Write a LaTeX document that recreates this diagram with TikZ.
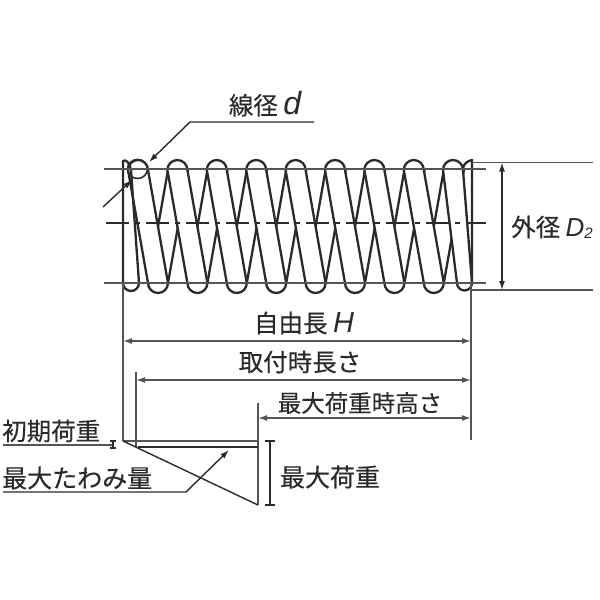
\documentclass[tikz,border=0pt]{standalone}
\usepackage{fontspec}
\setmainfont[FakeBold=0.25]{Noto Sans CJK JP}
\newfontfamily\latinit{Liberation Sans}
\usepackage{xcolor}
\usepackage{tikz}
\usetikzlibrary{arrows.meta,positioning,calc}
\definecolor{inkdark}{HTML}{2A2A2A}
\definecolor{inkline}{HTML}{555555}

\begin{document}
\begin{tikzpicture}[x=1pt, y=-1pt,
    wire/.style={line width=2.3pt, draw=inkdark, line join=round},
    guide/.style={line width=1.4pt, draw=inkline},
    dimline/.style={line width=1.4pt, draw=inkline, {Latex[length=9pt,width=6pt]}-{Latex[length=9pt,width=6pt]}},
    dimend/.style={line width=1.4pt, draw=inkline, -{Latex[length=9pt,width=6pt]}},
    ibar/.style={line width=1.8pt, draw=inkdark},
    label/.style={font=\fontsize{24.5}{26}\selectfont, text=inkdark, inner sep=0pt}]
    \useasboundingbox (0,0) rectangle (600,600);

    % Back of the coils
    \foreach \i in {0,...,7} {
        \draw[wire] ({148+39.4*\i},283) -- ({168+39.4*\i},170);
        \draw[wire] ({168+39.4*\i},283) -- ({188+39.4*\i},170);
    }

    % Front of the coils
    \foreach \i in {0,...,7} {
        \draw[wire, fill=white] ({128+39.4*\i},170) arc[start angle=180, end angle=360, radius=10]
            -- ({168+39.4*\i},283) arc[start angle=0, end angle=180, radius=10] -- cycle;
    }

    % Coil ends
    \draw[wire] (123,283) -- (123,161) .. controls (126,159) and (129,162) .. (131,170)
        -- (139,283) arc[start angle=0, end angle=180, radius=8];
    \draw[wire, fill=white] (443,170) arc[start angle=180, end angle=360, radius=10]
        -- (472,283) arc[start angle=0, end angle=180, radius=7.5] -- cycle;
    \draw[wire] (463,168) .. controls (464,163) and (468,161) .. (472,160) -- (472,283);

    % Wire section
    \draw[wire, line width=1.6pt] (137.5,169) circle[x radius=10, y radius=9.5];

    % Guide lines
    \coordinate (topa) at (104,169);
    \coordinate (topb) at (486,169);
    \coordinate (bota) at (104,283);
    \coordinate (botb) at (486,283);
    \coordinate (axisa) at (106,223);
    \coordinate (axisb) at (486,223);
    \draw[guide] (topa) -- (topb);
    \draw[guide] (bota) -- (botb);
    \draw[guide, draw=inkdark, dash pattern=on 23pt off 6pt on 5pt off 6pt] (axisa) -- (axisb);

    % Outer diameter
    \coordinate (oda) at (472,162.5);
    \coordinate (odb) at (593,162.5);
    \coordinate (odc) at (472,290);
    \coordinate (odd) at (593,290);
    \draw[guide] (oda) -- (odb);
    \draw[guide] (odc) -- (odd);
    \coordinate (odtop) at (502,162.5);
    \coordinate (odbot) at (502,290);
    \draw[dimline, draw=inkdark] (odtop) -- (odbot);
    \node[label, anchor=west] (odlabel) at (511,227) {外径 {\fontsize{26}{26}\selectfont\latinit\itshape D}\raisebox{-2pt}{\fontsize{15}{15}\selectfont\latinit\itshape 2}};

    % Wire diameter
    \node[label] (wirelabel) at (265,104) {線径 {\fontsize{32}{32}\selectfont\latinit\itshape d}};
    \coordinate (wirea) at (314,122);
    \coordinate (wireb) at (190,122);
    \coordinate (wirec) at (149,162);
    \draw[dimend, draw=inkdark] (wirea) -- (wireb) -- (wirec);
    \coordinate (wired) at (103,207);
    \coordinate (wiree) at (132,180);
    \draw[dimend, draw=inkdark] (wired) -- (wiree);

    % Extension lines
    \coordinate (exta) at (123,283);
    \coordinate (extb) at (123,441);
    \coordinate (extc) at (471,283);
    \coordinate (extd) at (471,440);
    \coordinate (exte) at (136,372);
    \coordinate (extf) at (136,447);
    \coordinate (extg) at (258,403);
    \coordinate (exth) at (258,505);
    \draw[guide] (exta) -- (extb);
    \draw[guide] (extc) -- (extd);
    \draw[guide] (exte) -- (extf);
    \draw[guide] (extg) -- (exth);

    % Free length
    \node[label] (freelabel) at (304,323) {自由長 {\fontsize{29}{29}\selectfont\latinit\itshape H}};
    \coordinate (freea) at (123,341);
    \coordinate (freeb) at (471,341);
    \draw[dimline] (freea) -- (freeb);

    % Mounted length
    \node[label] (mountlabel) at (300,362) {取付時長さ};
    \coordinate (mounta) at (136,380);
    \coordinate (mountb) at (471,380);
    \draw[dimline] (mounta) -- (mountb);

    % Height at maximum load
    \node[label, font=\fontsize{23.5}{25}\selectfont] (heightlabel) at (360,403) {最大荷重時高さ};
    \coordinate (heighta) at (258,418);
    \coordinate (heightb) at (471,418);
    \draw[dimline] (heighta) -- (heightb);

    % Load diagram
    \coordinate (loada) at (258,441);
    \coordinate (loadb) at (138,447);
    \coordinate (loadc) at (258,447);
    \draw[guide] (extb) -- (loada);
    \draw[guide, draw=inkdark] (loadb) -- (loadc);
    \draw[line width=1.4pt, draw=inkdark] (extb) -- (exth);

    % Initial load
    \node[label, anchor=west] (initlabel) at (2,431) {初期荷重};
    \coordinate (inita) at (3,445);
    \coordinate (initb) at (113,445);
    \draw[guide] (inita) -- (initb);
    \draw[ibar] (113,441) -- (113,448) (110,441) -- (116,441) (110,448) -- (116,448);

    % Maximum deflection
    \node[label, anchor=west, font=\fontsize{25}{26}\selectfont] (deflabel) at (2,478) {最大たわみ量};
    \coordinate (defa) at (3,492);
    \coordinate (defb) at (186,492);
    \coordinate (defc) at (229,450);
    \draw[dimend, draw=inkdark] (defa) -- (defb) -- (defc);

    % Maximum load
    \node[label, font=\fontsize{25}{26}\selectfont] (maxlabel) at (330,477) {最大荷重};
    \draw[ibar] (270,441) -- (270,505) (265,441) -- (275,441) (265,505) -- (275,505);

\end{tikzpicture}
\end{document}
